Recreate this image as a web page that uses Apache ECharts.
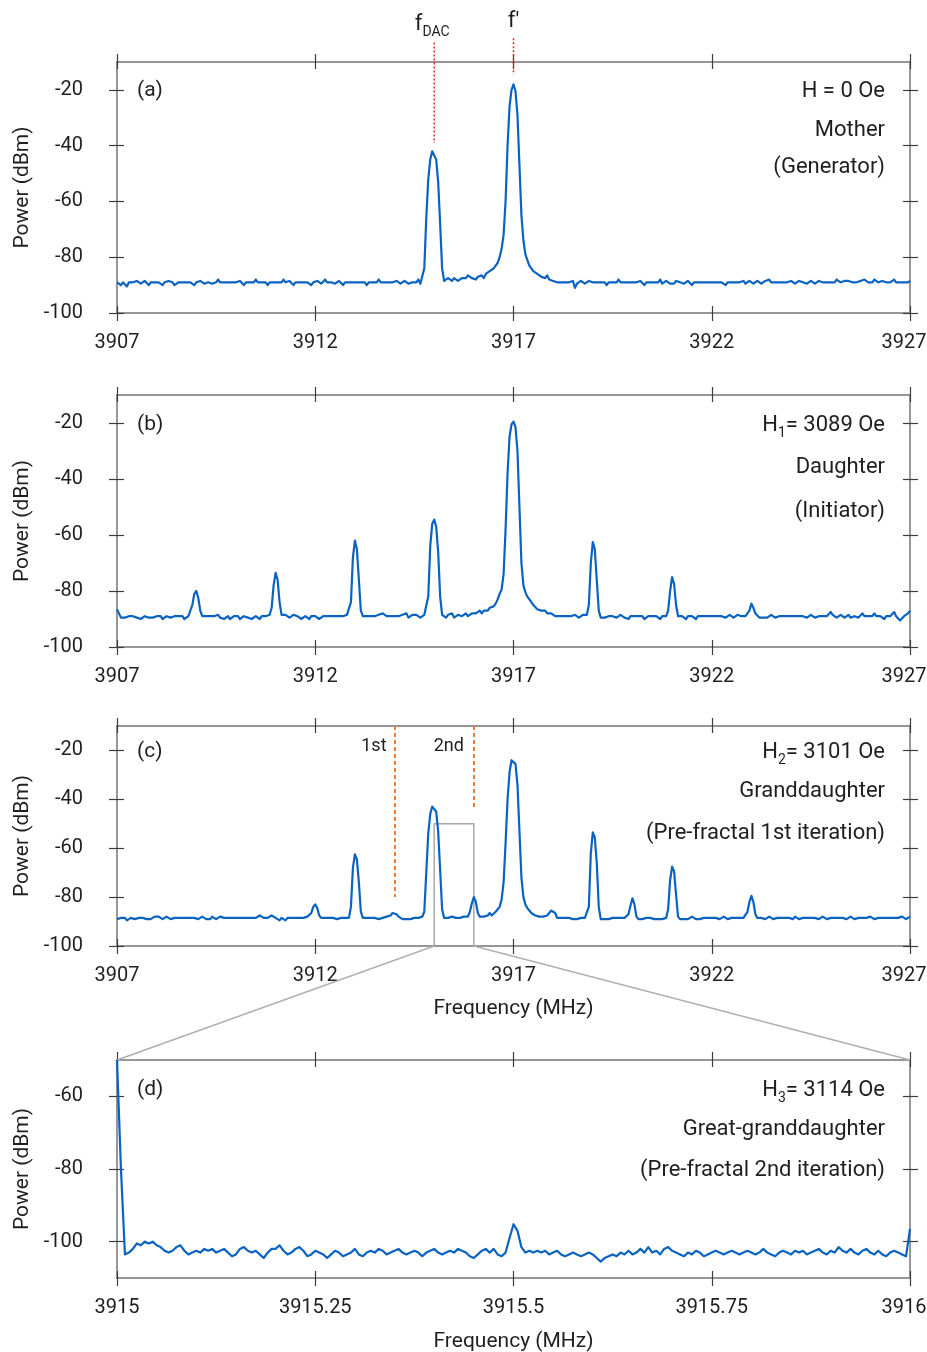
<!DOCTYPE html>
<html>
<head>
<meta charset="utf-8">
<script src="https://cdn.jsdelivr.net/npm/echarts@6/dist/echarts.min.js"></script>
<style>
  html, body { margin: 0; padding: 0; background: #fff; }
  #chart { width: 927px; height: 1352px; }
</style>
</head>
<body>
<div id="chart"></div>
<script>
// sweep settings of the spectrum analyser
const wideStart = 3907, wideStep = 0.05;     // panels a-c
const zoomStart = 3915, zoomStep = 0.005;    // panel d

// power (dBm), one row per MHz (20 points of 0.05 MHz) + last point
const powerA = [
  -89,-89.5,-90,-89,-89.5,-90.5,-89,-88.5,-89,-89.5,-88.5,-89,-89.5,-89,-88.5,-89,-90,-89,-89.5,-89,
  -88.5,-89,-89.5,-90,-89,-89.5,-88.5,-89,-89,-90,-89.5,-89,-88.5,-89,-89.5,-89,-88.5,-89,-89.5,-90,
  -89,-89.5,-88.5,-89,-89.5,-90,-89,-88.5,-89.5,-89,-89,-88,-89,-89.5,-89,-88.5,-89,-89.5,-89,-88.5,
  -89,-89.5,-88.5,-89,-90,-89,-88.5,-89,-89.5,-89,-88,-89,-89.5,-89,-88.5,-89,-90,-89,-89.5,-89,
  -88.5,-89,-89.5,-89,-88,-89,-89.5,-88.5,-89,-90,-89,-88.5,-89,-89.5,-89,-88.5,-89,-89.5,-90,-89,
  -89,-88.5,-89,-89.5,-89,-88,-89,-89.5,-89,-88.5,-89.5,-89,-88.5,-89,-90,-89,-88.5,-89,-89.5,-89,
  -88.5,-89,-89.5,-89,-88.5,-89,-90,-89,-88.5,-89,-89.5,-89,-88,-89,-89.5,-89,-88.5,-89,-89.5,-89,
  -89,-88.5,-89,-89.5,-89,-88.5,-89,-89.5,-90,-89,-88.5,-89,-88,-89.5,-89,-84,-66,-52,-45,-42,
  -42,-45,-53,-68,-84,-88.5,-88,-87.5,-88,-88.5,-87.5,-88,-88.5,-88,-87.5,-88,-87.5,-86.5,-87,-87.5,
  -87.5,-88,-87,-87.5,-86.5,-87.5,-86,-85.5,-85,-84.5,-84,-83,-82,-80,-77,-72,-60,-40,-26,-20,
  -18,-20.5,-29,-47,-65,-74,-79,-81,-83,-84,-85,-85.5,-86,-86.5,-87,-86.5,-87.5,-86.5,-88,-88,
  -88.5,-88,-89,-88.5,-89,-88.5,-89,-88.5,-89,-89.5,-88.5,-91,-89.5,-89,-88.5,-89,-89.5,-89,-88.5,-89,
  -89,-88.5,-89,-89.5,-89,-88.5,-89,-90,-89,-88.5,-89,-89.5,-89,-88,-89,-89.5,-89,-88.5,-89,-89.5,
  -89,-88.5,-89,-89.5,-88.5,-89,-90,-89,-88.5,-89,-89.5,-89,-88.5,-89,-88,-89.5,-89,-88.5,-89,-89.5,
  -89,-89.5,-88.5,-89,-89,-88.5,-89.5,-89,-88.5,-89,-90,-89,-88.5,-89,-89.5,-89,-88.5,-89,-89.5,-89,
  -88.5,-89,-89.5,-89,-88.5,-89,-89.5,-90,-89,-88.5,-89,-89.5,-89,-88.5,-89,-89,-88.5,-89.5,-89,-88.5,
  -89,-89.5,-89,-88.5,-89,-89.5,-89,-88.5,-89,-88,-89,-89.5,-89,-88.5,-89,-89.5,-89,-88.5,-89,-89,
  -88.5,-89,-89.5,-89,-88.5,-89,-89,-88.5,-89.5,-89,-88.5,-89,-89.5,-89,-88.5,-89,-89,-88.5,-89,-89.5,
  -89,-88.5,-89,-88,-88.5,-89,-89.5,-88.5,-89,-88.5,-88,-89,-88.5,-89,-89.5,-88.5,-89,-88,-88.5,-89,
  -88.5,-89,-88,-88.5,-89,-89.5,-88.5,-88,-89,-88.5,-89,-88.5,-88,-89,-89.5,-89,-88.5,-89,-89.5,-89,
  -88.5
];

const powerB = [
  -86.5,-88,-89.5,-89,-89.5,-90,-89,-89.5,-89,-89,-89.5,-89,-90,-89.5,-89,-88.5,-89.5,-89,-89.5,-89,
  -89,-89.5,-89,-90,-89.5,-89,-88.5,-89.5,-90,-89,-89.5,-89,-88.5,-89,-90,-89.5,-89,-88.5,-85,-81,
  -80,-82.5,-87,-89,-88.5,-89,-88.5,-89,-89.5,-89,-89,-88.5,-89.5,-89,-90,-89.5,-89,-90,-89.5,-89,
  -89.5,-89,-90,-89.5,-89,-88.5,-89.5,-89,-90,-89.5,-89,-89.5,-90,-89,-89.5,-89,-88.5,-88.5,-86,-78,
  -73.5,-76,-84,-88.5,-89,-88.5,-89,-89.5,-89,-88.5,-89,-89,-89.5,-90,-89.5,-89,-89.5,-90,-89,-89.5,
  -89,-89.5,-90,-89.5,-89,-89.5,-89,-88.5,-89,-88.5,-89,-89.5,-89,-88.5,-89,-89,-88.5,-88.5,-84,-68,
  -62,-65,-76,-87,-89,-88.5,-89,-89.5,-89,-88.5,-89,-89,-88.5,-89,-88,-88.5,-89,-88.5,-89,-88.5,
  -89,-88.5,-89,-89.5,-88.5,-89,-88,-89.5,-89,-88.5,-89,-88.5,-89,-89.5,-89,-88.5,-88,-82,-64,-56,
  -54.5,-57,-66,-82,-88.5,-89,-89.5,-88.5,-89,-88,-89.5,-89,-88.5,-88,-89,-88.5,-88,-89,-88.5,-88,
  -87.5,-88,-87.5,-87,-88,-87,-86.5,-87,-86,-86.5,-85.5,-84.5,-83,-81,-79.5,-74,-58,-38,-25,-20.5,
  -19.5,-21.5,-30,-50,-70,-78,-80.5,-82,-83,-84,-85,-85.5,-86.5,-86.5,-87,-87.5,-87,-88,-88.5,-88,
  -88.5,-89,-88.5,-89,-88.5,-89,-89.5,-89,-88.5,-89,-89,-88.5,-89,-89.5,-89,-88.5,-89,-88.5,-85,-70,
  -62.5,-65,-76,-87,-89.5,-89,-89.5,-90,-89,-89.5,-89,-88.5,-89.5,-89,-88.5,-89,-89.5,-89,-90,-89,
  -89.5,-89,-88.5,-89,-89.5,-89,-90,-89.5,-89,-89.5,-89,-88.5,-89,-89.5,-90,-89,-89.5,-89,-87,-80,
  -75,-77.5,-85,-89,-89.5,-89,-89.5,-90,-89,-89.5,-89,-89.5,-90,-89,-89.5,-89,-88.5,-89,-89.5,-89,
  -89.5,-89,-89.5,-89,-88.5,-89,-89,-89.5,-89,-88.5,-89,-89.5,-89,-88.5,-89,-89,-88.5,-89,-88.5,-87,
  -84.5,-86,-88,-88.5,-89.5,-89,-89.5,-89,-89.5,-89,-88.5,-89,-89.5,-89,-89,-88.5,-89,-89.5,-89,-89.5,
  -89,-89.5,-89,-88.5,-89,-89.5,-89,-89,-89.5,-89,-88.5,-89,-89.5,-89,-89,-88.5,-89,-89.5,-89,-88.5,
  -87.5,-88.5,-89,-89.5,-89,-88.5,-89,-89.5,-89,-88.5,-89.5,-89,-89,-88.5,-89.5,-89,-88,-89,-89.5,-89,
  -88.5,-89,-88,-89,-89.5,-89,-89.5,-90,-89,-88.5,-89,-88.5,-87.5,-89,-89.5,-90.5,-90,-89,-88.5,-88,
  -87
];

const powerC = [
  -89,-89.5,-88.5,-89,-88.5,-89.5,-89,-88.5,-88,-89,-89.5,-88.5,-89,-88.5,-88,-89,-88.5,-89,-88.5,-88,
  -88.5,-88,-88.5,-89,-88.5,-88,-88.5,-89,-89.5,-88.5,-89,-88.5,-88,-88.5,-89,-88.5,-88,-88.5,-89,-88.5,
  -88.5,-89,-88.5,-88,-88.5,-89,-88.5,-89,-88,-88.5,-89,-88.5,-88,-88.5,-88.5,-89,-88.5,-88,-88.5,-89,
  -88.5,-88,-88.5,-89,-88.5,-88,-88.5,-89,-88.5,-88,-88.5,-88,-87.5,-88,-88.5,-89,-88.5,-88,-87.5,-88,
  -88.5,-89,-89.5,-88.5,-89,-89.5,-88.5,-89,-88.5,-88,-88.5,-89,-88.5,-89,-88.5,-88.5,-88,-88,-86.5,-84,
  -83,-84.5,-87.5,-88.5,-89,-88.5,-89,-88.5,-89,-88.5,-88.5,-89,-88.5,-88.5,-89,-88.5,-88.5,-88.5,-84,-68,
  -62.5,-64.5,-74,-86,-88.5,-89,-88.5,-89,-88.5,-89,-88.5,-88.5,-89,-88.5,-88.5,-88.5,-88,-88.5,-87.5,-86.5,
  -86,-87,-88,-88.5,-89,-88.5,-89,-88.5,-89,-88.5,-88.5,-89,-88.5,-88.5,-88,-86,-70,-54,-46,-43,
  -42.5,-45,-53,-69,-85,-88.5,-89,-88.5,-88.5,-88,-88.5,-88.5,-88,-88.5,-88,-88,-87.5,-88,-86,-82.5,
  -80,-82,-86.5,-88,-88.5,-88,-88,-87.5,-86.5,-87.5,-87,-86,-85.5,-84,-81,-74,-58,-40,-29,-24,
  -23.5,-25.5,-34,-53,-72,-80,-83,-84.5,-85.5,-86.5,-86.5,-87.5,-87.5,-88,-88.5,-88,-88.5,-87.5,-86.5,-85.5,
  -85,-86.5,-88.5,-89,-88.5,-89,-88.5,-89,-88.5,-88.5,-89,-88.5,-89,-88.5,-88.5,-89,-88.5,-88,-84,-62,
  -53.5,-55.5,-66,-84,-89,-89.5,-89,-88.5,-89,-89,-88.5,-89,-88.5,-89,-88.5,-89,-88.5,-89,-87,-83.5,
  -80.5,-83,-88,-89,-88.5,-89,-89.5,-88.5,-89,-88.5,-89,-89,-88.5,-89,-88.5,-89,-88.5,-88.5,-85,-73,
  -67.5,-69.5,-79,-88,-89,-88.5,-89,-88.5,-89,-88.5,-88,-88.5,-89,-88.5,-89,-88.5,-88.5,-89,-88.5,-88,
  -88.5,-89,-88.5,-88.5,-89,-88.5,-88,-88.5,-89,-88.5,-88.5,-89,-88.5,-88,-88.5,-89,-88.5,-88,-86,-82,
  -79.5,-82,-87,-88.5,-89,-88.5,-88.5,-89,-88.5,-88,-88.5,-89,-88.5,-88.5,-88,-88.5,-89,-88.5,-88,-88.5,
  -88.5,-89,-88,-88.5,-89,-88.5,-88.5,-88,-88.5,-89,-88.5,-88,-88.5,-88.5,-89,-88.5,-88,-88.5,-89,-88.5,
  -88.5,-88,-88.5,-89,-88.5,-88,-88.5,-88.5,-89,-88.5,-88,-88.5,-89,-88.5,-88.5,-88,-88.5,-89,-88.5,-88.5,
  -88,-88.5,-89,-88.5,-88.5,-88,-88.5,-89,-88.5,-88,-88.5,-89,-88.5,-89,-88.5,-88.5,-88,-88.5,-89,-88.5,
  -88
];

// panel d, one row per 0.1 MHz (20 points of 0.005 MHz) + last point
const powerD = [
  -50,-80,-103.5,-103,-102,-100.5,-101,-100,-100.5,-100,-101,-101.5,-102.5,-103,-102.5,-101.5,-101,-102.5,-103.5,-103,
  -102.5,-103,-102,-102.5,-102,-103,-102.5,-102,-103,-104,-103.5,-102,-101.5,-102.5,-103,-102.5,-103.5,-104.5,-103,-102,
  -102,-101,-102.5,-103.5,-103,-102,-101.5,-102.5,-104,-103.5,-102.5,-103,-103.5,-104.5,-103.5,-102.5,-103,-104,-103.5,-103,
  -102,-103.5,-104,-103,-102.5,-103,-102,-102.5,-103.5,-103,-102.5,-102,-103,-103.5,-103,-102.5,-103,-104,-103,-102.5,
  -102,-103,-103.5,-103,-102.5,-103,-102,-102.5,-103,-104,-104.5,-103.5,-102.5,-102,-103,-102,-103.5,-104,-103,-99,
  -95.2,-97,-101.5,-103,-102.5,-103,-102.5,-103,-102.5,-103.5,-103,-102.5,-103.5,-104,-103.5,-103,-103.5,-104,-103.5,-103,
  -103.5,-104.5,-105.5,-104.5,-104,-103.5,-104,-103,-103.5,-102.5,-103.5,-103,-102,-103,-101.5,-103,-102.5,-103.5,-102,-101.5,
  -102.5,-103,-103.5,-104,-103,-103.5,-102.5,-103,-104,-103.5,-103,-102.5,-103,-103.5,-103,-102.5,-103,-103.5,-103,-102.5,
  -103,-103.5,-103,-102,-103,-103.5,-104,-103,-102.5,-103,-103.5,-102.5,-103,-102.5,-103.5,-103,-102.5,-102,-103,-103.5,
  -102.5,-103,-101.5,-102.5,-103,-102,-103,-103.5,-102.5,-102,-103,-103.5,-102.5,-103.5,-104,-103,-102.5,-103,-103.5,-104,
  -96.5
];

// axis ticks
const wideTicks = [3907, 3912, 3917, 3922, 3927];
const zoomTicks = [3915, 3915.25, 3915.5, 3915.75, 3916];
const powerTicks = [-100, -80, -60, -40, -20];
const zoomPowerTicks = [-100, -80, -60];

// zoomed window shown in (d), drawn as a box in (c)
const zoomWindow = [3915, 3916];
const zoomWindowTop = -50;
// markers: f_DAC and f' in (a), 1st/2nd iteration in (c)
const fDac = 3915, fPrime = 3917;
const iter1 = 3914, iter2 = 3916;

const panelTags = ['(a)', '(b)', '(c)', '(d)'];
const panelNotes = [
  ['H = 0 Oe', 'Mother', '(Generator)'],
  ['H{s|1}= 3089 Oe', 'Daughter', '(Initiator)'],
  ['H{s|2}= 3101 Oe', 'Granddaughter', '(Pre-fractal 1st iteration)'],
  ['H{s|3}= 3114 Oe', 'Great-granddaughter', '(Pre-fractal 2nd iteration)']
];

const FONT = 'Roboto, "Noto Sans", sans-serif';
const BLUE = '#0b63c1';
const FRAME = '#747474';
const TICK = '#3c3c3c';
const TEXT = '#1f1f1f';

const grids = [
  { left: 117, top: 62, width: 793, height: 251 },
  { left: 117, top: 395, width: 793, height: 252 },
  { left: 117, top: 726, width: 793, height: 220 },
  { left: 117, top: 1060, width: 793, height: 218 }
].map(g => Object.assign(g, { containLabel: false, outerBoundsMode: 'none' }));
const notesY = [[91, 130, 167], [425, 467, 511], [752, 791, 833], [1090, 1129, 1170]];

function toPairs(start, step, values) {
  return values.map((v, i) => [+(start + i * step).toFixed(4), v]);
}

function axisSet(dim, gi, min, max, ticks, name, nameGap) {
  const main = dim === 'x' ? 'bottom' : 'left';
  const other = dim === 'x' ? 'top' : 'right';
  const last = ticks[ticks.length - 1];
  const base = {
    gridIndex: gi, type: 'value', min: min, max: max,
    splitLine: { show: false },
    axisLine: { show: false, onZero: false },
    axisTick: { show: true, inside: true, length: 7, customValues: ticks, lineStyle: { color: TICK, width: 1.2 } },
    axisLabel: { show: false },
    axisPointer: { show: false }
  };
  const first = Object.assign({}, base, {
    position: main,
    axisLine: { show: true, onZero: false, lineStyle: { color: FRAME, width: 1.5 } },
    axisTick: { show: true, inside: false, length: 8, customValues: ticks, lineStyle: { color: TICK, width: 1.2 } },
    axisLabel: {
      show: true, customValues: ticks, fontSize: 20, fontFamily: FONT, color: TEXT,
      margin: dim === 'x' ? 20 : 34,
      // the right-most frequency label sits against the page edge
      formatter: v => (dim === 'x' && v === last) ? '{edge|' + v + '}' : String(v),
      rich: { edge: { fontSize: 20, fontFamily: FONT, color: TEXT, padding: [0, 12, 0, 0] } },
      showMinLabel: true, showMaxLabel: true, hideOverlap: false
    }
  });
  if (name) {
    first.name = name;
    first.nameLocation = 'middle';
    first.nameGap = nameGap;
    first.nameTextStyle = { fontSize: 21, fontFamily: FONT, color: TEXT };
  }
  const second = Object.assign({}, base, {
    position: other,
    axisLine: { show: true, onZero: false, lineStyle: { color: FRAME, width: 1.5 } },
    axisTick: { show: true, inside: false, length: 8, customValues: ticks, lineStyle: { color: TICK, width: 1.2 } }
  });
  const third = Object.assign({}, base, { position: other });
  const fourth = Object.assign({}, base, { position: main });
  return [first, second, third, fourth];
}

const xAxes = [].concat(
  axisSet('x', 0, 3907, 3927, wideTicks),
  axisSet('x', 1, 3907, 3927, wideTicks),
  axisSet('x', 2, 3907, 3927, wideTicks, 'Frequency (MHz)', 52),
  axisSet('x', 3, 3915, 3916, zoomTicks, 'Frequency (MHz)', 53)
);
const yAxes = [].concat(
  axisSet('y', 0, -100, -10, powerTicks, 'Power (dBm)', 84),
  axisSet('y', 1, -100, -10, powerTicks, 'Power (dBm)', 84),
  axisSet('y', 2, -100, -10, powerTicks, 'Power (dBm)', 84),
  axisSet('y', 3, -110, -50, zoomPowerTicks, 'Power (dBm)', 84)
);

function trace(gi, data) {
  return {
    type: 'line', xAxisIndex: gi * 4, yAxisIndex: gi * 4, data: data,
    showSymbol: false, symbol: 'none', z: 3,
    lineStyle: { color: BLUE, width: 2.2, join: 'round' }
  };
}

const series = [
  trace(0, toPairs(wideStart, wideStep, powerA)),
  trace(1, toPairs(wideStart, wideStep, powerB)),
  trace(2, toPairs(wideStart, wideStep, powerC)),
  trace(3, toPairs(zoomStart, zoomStep, powerD)),
  {
    // zoom box in (c) plus the iteration markers
    type: 'line', xAxisIndex: 8, yAxisIndex: 8, z: 2, symbol: 'none',
    data: [[zoomWindow[0], -100], [zoomWindow[0], zoomWindowTop], [zoomWindow[1], zoomWindowTop], [zoomWindow[1], -100]],
    lineStyle: { color: '#a8a8a8', width: 1.5 },
    markLine: {
      symbol: 'none', silent: true, animation: false,
      label: { show: false },
      lineStyle: { color: '#ff7a2b', width: 2, type: [4, 3] },
      data: [
        [{ coord: [iter1, -10] }, { coord: [iter1, -80] }],
        [{ coord: [iter2, -10] }, { coord: [iter2, -44] }]
      ]
    }
  }
];

const chart = echarts.init(document.getElementById('chart'), null, { renderer: 'canvas' });
chart.setOption({
  animation: false,
  backgroundColor: '#fff',
  grid: grids,
  xAxis: xAxes,
  yAxis: yAxes,
  series: series
});

// annotations placed after layout
const px = (gi, x, y) => chart.convertToPixel({ xAxisIndex: gi * 4, yAxisIndex: gi * 4 }, [x, y]);
const rich = { s: { fontSize: 14, fontFamily: FONT, fill: TEXT, verticalAlign: 'bottom', lineHeight: 30 } };
const graphics = [];

grids.forEach((g, gi) => {
  graphics.push({
    type: 'text', silent: true,
    style: { text: panelTags[gi], x: g.left + 20, y: notesY[gi][0], fontSize: 21, fontFamily: FONT,
      fill: TEXT, align: 'left', verticalAlign: 'middle' }
  });
  panelNotes[gi].forEach((t, k) => {
    graphics.push({
      type: 'text', silent: true,
      style: { text: t, x: g.left + g.width - 25, y: notesY[gi][k], fontSize: 22, fontFamily: FONT,
        fill: TEXT, align: 'right', verticalAlign: 'middle', lineHeight: 30, rich: rich }
    });
  });
});

// red dotted markers above (a)
[[fDac, -3, -39], [fPrime, -1.5, -14.5]].forEach(m => {
  const p1 = px(0, m[0], m[1]), p2 = px(0, m[0], m[2]);
  graphics.push({
    type: 'line', silent: true, z: 10,
    shape: { x1: p1[0], y1: p1[1], x2: p2[0], y2: p2[1] },
    style: { stroke: '#cf2b2b', lineWidth: 1.5, lineDash: [2, 2] }
  });
});
const pDac = px(0, fDac, 0), pPrime = px(0, fPrime, 0);
graphics.push({
  type: 'text', silent: true,
  style: { text: 'f{s|DAC}', x: pDac[0] - 2, y: 24, fontSize: 22, fontFamily: FONT, fill: TEXT,
    align: 'center', verticalAlign: 'middle', lineHeight: 30,
    rich: { s: { fontSize: 14, fontFamily: FONT, fill: TEXT, verticalAlign: 'bottom', lineHeight: 30 } } }
});
graphics.push({
  type: 'text', silent: true,
  style: { text: 'f\u2032', x: pPrime[0], y: 21, fontSize: 22, fontFamily: FONT, fill: TEXT,
    align: 'center', verticalAlign: 'middle' }
});

// iteration labels in (c)
const p1st = px(2, iter1, -18.5), p2nd = px(2, iter2, -18.5);
graphics.push({
  type: 'text', silent: true,
  style: { text: '1st', x: p1st[0] - 8, y: p1st[1], fontSize: 18, fontFamily: FONT, fill: TEXT,
    align: 'right', verticalAlign: 'middle' }
});
graphics.push({
  type: 'text', silent: true,
  style: { text: '2nd', x: p2nd[0] - 10, y: p2nd[1], fontSize: 18, fontFamily: FONT, fill: TEXT,
    align: 'right', verticalAlign: 'middle' }
});

// connectors from the box in (c) to the frame of (d)
zoomWindow.forEach(f => {
  const a = px(2, f, -100), b = px(3, f, zoomWindowTop);
  graphics.push({
    type: 'line', silent: true, z: 1,
    shape: { x1: a[0], y1: a[1], x2: b[0], y2: b[1] },
    style: { stroke: '#b0b0b0', lineWidth: 1.5 }
  });
});

chart.setOption({ graphic: graphics });
</script>
</body>
</html>
